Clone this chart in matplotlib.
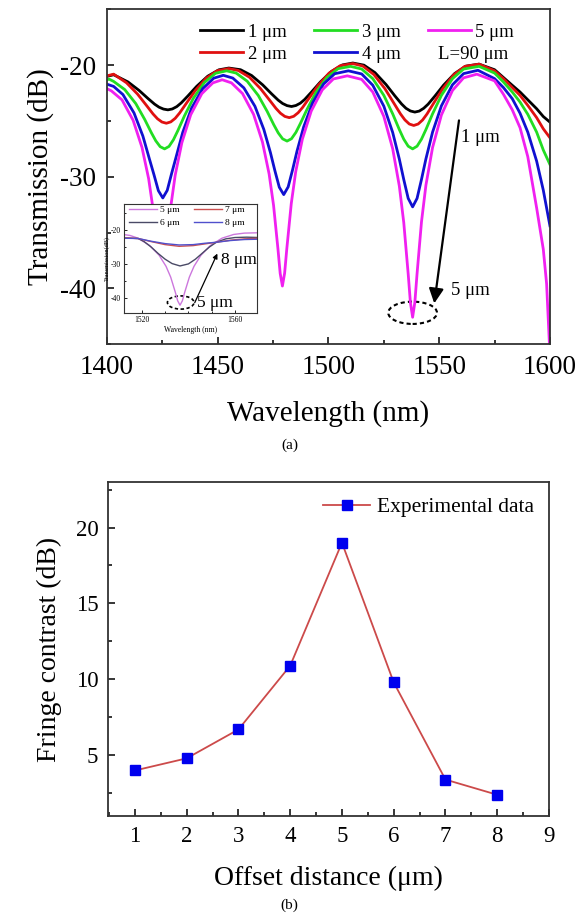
"""Offset-spliced fibre: transmission spectra vs. core offset (a) and fringe contrast (b)."""
import matplotlib
matplotlib.use("Agg")
import matplotlib.pyplot as plt
from matplotlib.patches import Ellipse
from matplotlib.ticker import MultipleLocator

plt.rcParams["font.family"] = ["Liberation Serif", "DejaVu Serif"]
plt.rcParams["axes.unicode_minus"] = False

# ---- panel (a): simulated spectra, L = 90 um -------------------------------
wl_1um = [1400, 1403, 1409.5, 1414.5, 1418.5, 1421.5, 1423.5, 1425.5, 1427.5, 1429.5, 1431.5, 1433.5,
          1436.5, 1440.5, 1445.5, 1450.5, 1455, 1460.3, 1465.3, 1470.3, 1474.3, 1477.3, 1479.3, 1481.3,
          1483.3, 1485.3, 1487.3, 1489.3, 1492.3, 1496.3, 1501.3, 1506.3, 1511, 1516, 1521, 1526, 1530,
          1533, 1535, 1537, 1539, 1541, 1543, 1545, 1548, 1552, 1557, 1562, 1568, 1575, 1579, 1583,
          1586.5, 1590, 1594, 1597, 1600]
t_1um = [-21.0, -20.85, -21.5, -22.26, -22.98, -23.49, -23.76, -23.93, -24.0, -23.92, -23.71, -23.38,
         -22.76, -21.89, -20.98, -20.41, -20.25, -20.4, -20.92, -21.76, -22.56, -23.13, -23.43, -23.62,
         -23.7, -23.61, -23.4, -23.06, -22.41, -21.51, -20.56, -19.97, -19.8, -19.99, -20.66, -21.73, -22.75,
         -23.47, -23.86, -24.1, -24.2, -24.11, -23.86, -23.49, -22.78, -21.78, -20.74, -20.08, -19.9, -20.4,
         -21.1, -21.8, -22.4, -23.1, -23.9, -24.6, -25.1]

wl_2um = [1400, 1403, 1408.8, 1413.8, 1417.8, 1420.8, 1422.8, 1424.8, 1426.8, 1428.8, 1430.8, 1432.8,
          1435.8, 1439.8, 1444.8, 1449.8, 1455, 1459.3, 1464.3, 1469.3, 1473.3, 1476.3, 1478.3, 1480.3,
          1482.3, 1484.3, 1486.3, 1488.3, 1491.3, 1495.3, 1500.3, 1505.3, 1511, 1515.5, 1520.5, 1525.5,
          1529.5, 1532.5, 1534.5, 1536.5, 1538.5, 1540.5, 1542.5, 1544.5, 1547.5, 1551.5, 1556.5, 1561.5,
          1568, 1575, 1579, 1583, 1586.5, 1590, 1594, 1597, 1600]
t_2um = [-20.95, -20.8, -21.57, -22.59, -23.6, -24.37, -24.8, -25.09, -25.2, -25.08, -24.76, -24.28,
         -23.42, -22.29, -21.16, -20.49, -20.3, -20.47, -21.07, -22.09, -23.1, -23.87, -24.3, -24.59,
         -24.7, -24.58, -24.26, -23.79, -22.94, -21.82, -20.7, -20.04, -19.85, -20.07, -20.83, -22.1,
         -23.39, -24.36, -24.9, -25.27, -25.4, -25.27, -24.91, -24.37, -23.4, -22.13, -20.87, -20.11,
         -19.9, -20.5, -21.2, -22.0, -22.7, -23.6, -24.7, -25.7, -26.5]

wl_3um = [1400, 1401, 1403, 1408, 1413, 1417, 1420, 1422, 1424, 1426, 1428, 1430, 1432, 1435, 1439,
          1444, 1449, 1454, 1458.3, 1463.3, 1468.3, 1472.3, 1475.3, 1477.3, 1479.3, 1481.3, 1483.3,
          1485.3, 1487.3, 1490.3, 1494.3, 1499.3, 1504.3, 1510, 1515, 1520, 1525, 1529, 1532, 1534, 1536,
          1538, 1540, 1542, 1544, 1547, 1551, 1556, 1561, 1568, 1575, 1579, 1583, 1586.5, 1590, 1594,
          1597, 1600]
t_3um = [-21.3, -21.25, -21.45, -22.18, -23.44, -24.85, -26.04, -26.77, -27.3, -27.5, -27.28, -26.68,
         -25.86, -24.53, -22.96, -21.54, -20.72, -20.5, -20.7, -21.43, -22.71, -24.13, -25.33, -26.06,
         -26.6, -26.8, -26.59, -26.02, -25.23, -23.96, -22.45, -21.09, -20.31, -20.1, -20.34, -21.2,
         -22.7, -24.36, -25.77, -26.63, -27.26, -27.5, -27.26, -26.63, -25.77, -24.36, -22.7, -21.2,
         -20.34, -20.1, -20.7, -21.5, -22.4, -23.3, -24.4, -26.0, -27.6, -28.9]

wl_4um = [1400, 1403, 1407.2, 1412.2, 1416.2, 1419.2, 1421.2, 1423.2, 1425.2, 1427.2, 1429.2, 1431.2,
          1434.2, 1438.2, 1443.2, 1448.2, 1452.5, 1456.8, 1461.8, 1466.8, 1470.8, 1473.8, 1475.8, 1477.8,
          1479.8, 1481.8, 1483.8, 1485.8, 1488.8, 1492.8, 1497.8, 1502.8, 1509, 1515, 1520, 1525, 1529,
          1532, 1534, 1536, 1538, 1540, 1542, 1544, 1547, 1551, 1556, 1561, 1567.5, 1575, 1579, 1583,
          1586.5, 1590, 1594, 1597, 1600]
t_4um = [-21.7, -21.9, -22.63, -24.28, -26.35, -28.44, -29.81, -31.25, -31.9, -31.22, -29.69, -28.23,
         -26.02, -23.84, -22.1, -21.16, -20.9, -21.15, -22.03, -23.68, -25.75, -27.84, -29.45, -30.94,
         -31.6, -30.91, -29.37, -27.7, -25.53, -23.39, -21.68, -20.76, -20.5, -20.78, -21.79, -23.67,
         -26.03, -28.42, -30.25, -31.94, -32.7, -31.94, -30.24, -28.4, -26.0, -23.64, -21.75, -20.75,
         -20.45, -21.2, -22.0, -23.0, -24.3, -26.0, -28.6, -31.2, -34.4]

wl_5um = [1400, 1402, 1406.8, 1411.8, 1415.8, 1418.8, 1420.8, 1422.8, 1423.8, 1424.8, 1425.8, 1426.8,
          1428.8, 1430.8, 1433.8, 1437.8, 1442.8, 1447.8, 1452, 1456.2, 1461.2, 1466.2, 1470.2, 1473.2,
          1475.2, 1477.2, 1478.2, 1479.2, 1480.2, 1481.2, 1483.2, 1485.2, 1488.2, 1492.2, 1497.2, 1502.2,
          1508.5, 1515, 1520, 1525, 1529, 1532, 1534, 1536, 1537, 1538, 1539, 1540, 1542, 1544, 1547,
          1551, 1556, 1561, 1567, 1575, 1579, 1583, 1586.5, 1590, 1594, 1597, 1598.5, 1600]
t_5um = [-22.1, -22.3, -23.11, -24.94, -27.37, -30.17, -32.9, -36.76, -38.9, -40.0, -38.86, -36.65,
         -32.67, -29.85, -26.95, -24.44, -22.55, -21.58, -21.3, -21.58, -22.54, -24.41, -26.89, -29.75,
         -32.55, -36.49, -38.67, -39.8, -38.65, -36.43, -32.41, -29.56, -26.64, -24.12, -22.21, -21.23,
         -20.95, -21.27, -22.4, -24.59, -27.49, -30.84, -34.11, -38.72, -41.28, -42.6, -41.27, -38.7,
         -34.05, -30.76, -27.38, -24.46, -22.26, -21.13, -20.8, -21.4, -22.6, -24.0, -25.6, -28.2, -32.8,
         -36.5, -39.6, -46.0]

main_labels = ["1 μm", "2 μm", "3 μm", "4 μm", "5 μm"]
main_colors = ["black", "#e01010", "#22dd22", "#1010d0", "#f020f0"]

# ---- inset: 5-8 um around 1536 nm -------------------------------------------
wl_in_5um = [1512, 1515, 1518.4, 1523.4, 1527.4, 1530.4, 1532.4, 1534.4, 1535.4, 1536.4, 1537.4, 1538.4,
             1540.4, 1542.4, 1545.4, 1549.4, 1554.4, 1559.4, 1564, 1570]
t_in_5um = [-21.3, -21.6, -22.4, -24.56, -27.4, -30.7, -33.9, -38.4, -40.9, -42.2, -40.9, -38.4,
            -33.9, -30.7, -27.4, -24.56, -22.4, -21.3, -20.9, -20.8]
wl_in_6um = [1512, 1518.5, 1521, 1524, 1527, 1530, 1533, 1536.4, 1540, 1543, 1546, 1549, 1552, 1556,
             1560, 1565, 1570]
t_in_6um = [-22.3, -22.5, -23.4, -25.0, -26.9, -28.6, -29.9, -30.6, -30.0, -28.6, -26.8, -25.0, -23.6,
            -22.6, -22.2, -22.1, -22.2]
wl_in_7um = [1512, 1518.5, 1524, 1530, 1536, 1542, 1547, 1552, 1558, 1564, 1570]
t_in_7um = [-22.3, -22.5, -23.4, -24.3, -24.8, -24.6, -24.1, -23.6, -23.0, -22.6, -22.4]
wl_in_8um = [1512, 1518.5, 1524, 1530, 1536, 1542, 1547, 1552, 1558, 1564, 1570]
t_in_8um = [-22.4, -22.5, -23.3, -24.0, -24.4, -24.3, -23.9, -23.6, -23.1, -22.8, -22.7]

inset_labels = ["5 μm", "6 μm", "7 μm", "8 μm"]
inset_colors = ["#cc77dd", "#4a4a66", "#cc5050", "#5050cc"]

# ---- panel (b): measured fringe contrast ------------------------------------
offset_um = [1, 2, 3, 4, 5, 6, 7, 8]
contrast_db = [4.0, 4.8, 6.7, 10.9, 19.0, 9.8, 3.4, 2.4]


def _frame(ax, lw=1.3):
    for s in ax.spines.values():
        s.set_linewidth(lw)
        s.set_color("#333333")


fig = plt.figure(figsize=(5.79, 9.13), dpi=100)

# panel (a)
ax = fig.add_axes([0.1848, 0.6232, 0.765, 0.3664])
series = [(wl_1um, t_1um), (wl_2um, t_2um), (wl_3um, t_3um), (wl_4um, t_4um), (wl_5um, t_5um)]
for (wl, t), lab, col in zip(series, main_labels, main_colors):
    ax.plot(wl, t, color=col, lw=2.0, label=lab)
ax.set_xlim(1400, 1600)
ax.set_ylim(-45, -15)
ax.xaxis.set_major_locator(MultipleLocator(50))
ax.xaxis.set_minor_locator(MultipleLocator(25))
ax.yaxis.set_major_locator(MultipleLocator(10))
ax.yaxis.set_minor_locator(MultipleLocator(5))
ax.tick_params(which="both", direction="in", labelsize=19.5, width=1.1)
ax.tick_params(which="major", length=5, pad=8)
ax.tick_params(which="minor", length=3)
ax.set_xlabel("Wavelength (nm)", fontsize=21, labelpad=14)
ax.set_ylabel("Transmission (dB)", fontsize=21, labelpad=4)
_frame(ax)
ax.legend(ncol=3, loc="upper left", bbox_to_anchor=(0.21, 0.957), frameon=False, fontsize=13.5,
          handlelength=2.3, handletextpad=0.25, columnspacing=1.45, labelspacing=0.25, borderpad=0,
          borderaxespad=0)
ax.text(1549.4, -19.0, "L=90 μm", fontsize=13.5, ha="left", va="center")

ax.annotate("", xy=(1547.6, -41.6), xytext=(1559.1, -24.7),
            arrowprops=dict(arrowstyle="-|>", color="black", lw=1.6, mutation_scale=22))
ax.text(1560, -26.5, "1 μm", fontsize=13.5, ha="left", va="center")
ax.text(1555.5, -40.2, "5 μm", fontsize=13.5, ha="left", va="center")
ax.add_patch(Ellipse((1538, -42.2), 22, 2.0, fill=False, ls=(0, (2, 1.5)), lw=1.5, color="black"))

# inset
axi = fig.add_axes([0.2142, 0.6568, 0.2297, 0.1194], zorder=5)
axi.set_facecolor("white")
in_series = [(wl_in_5um, t_in_5um), (wl_in_6um, t_in_6um), (wl_in_7um, t_in_7um), (wl_in_8um, t_in_8um)]
for (wl, t), lab, col in zip(in_series, inset_labels, inset_colors):
    axi.plot(wl, t, color=col, lw=1.0, label=lab)
axi.set_xlim(1512.4, 1569.4)
axi.set_ylim(-44.6, -12.4)
axi.set_xticks([1520, 1560])
axi.xaxis.set_minor_locator(MultipleLocator(10))
axi.yaxis.set_major_locator(MultipleLocator(10))
axi.yaxis.set_minor_locator(MultipleLocator(5))
axi.tick_params(which="both", direction="in", labelsize=5.5, width=0.6, pad=2)
axi.tick_params(which="major", length=2.5)
axi.tick_params(which="minor", length=1.5)
axi.set_xlabel("Wavelength (nm)", fontsize=5.5, labelpad=1)
axi.set_ylabel("Transmission(dB)", fontsize=4.5, labelpad=1)
_frame(axi, lw=0.8)
axi.legend(ncol=2, loc="upper left", bbox_to_anchor=(0.04, 0.99), frameon=False, fontsize=6.8,
           handlelength=2.9, handletextpad=0.3, columnspacing=1.6, labelspacing=0.45, borderpad=0,
           borderaxespad=0)
axi.annotate("", xy=(1552.9, -26.2), xytext=(1542.2, -42.2),
             arrowprops=dict(arrowstyle="-|>", color="black", lw=0.9, mutation_scale=7))
axi.text(1554, -28.9, "8 μm", fontsize=12.5, ha="left", va="center")
axi.text(1543.6, -41.4, "5 μm", fontsize=12.5, ha="left", va="center")
axi.add_patch(Ellipse((1536.7, -41.4), 11.4, 3.9, fill=False, ls=(0, (2, 1.5)), lw=1.2, color="black"))

fig.text(0.5, 0.5126, "(a)", ha="center", va="center", fontsize=11)

# panel (b)
axb = fig.add_axes([0.1865, 0.1062, 0.7617, 0.3659])
axb.plot(offset_um, contrast_db, color="#cc4a4a", lw=1.3, marker="s", markersize=7,
         markerfacecolor="#0000ee", markeredgecolor="#0000ee", label="Experimental data")
axb.set_xlim(0.48, 9)
axb.set_ylim(1, 23)
axb.xaxis.set_major_locator(MultipleLocator(1))
axb.xaxis.set_minor_locator(MultipleLocator(0.5))
axb.yaxis.set_major_locator(MultipleLocator(5))
axb.yaxis.set_minor_locator(MultipleLocator(2.5))
axb.tick_params(which="both", direction="in", labelsize=16.5, width=1.1)
axb.tick_params(which="major", length=5, pad=7)
axb.tick_params(which="minor", length=3)
axb.set_xlabel("Offset distance (μm)", fontsize=20, labelpad=14)
axb.set_ylabel("Fringe contrast (dB)", fontsize=20, labelpad=10)
_frame(axb)
axb.legend(loc="upper right", frameon=False, fontsize=15.5, handlelength=2.2, handletextpad=0.3,
           borderaxespad=0.3)

fig.text(0.5, 0.0088, "(b)", ha="center", va="center", fontsize=11)

fig.savefig("out.png", dpi=100)
